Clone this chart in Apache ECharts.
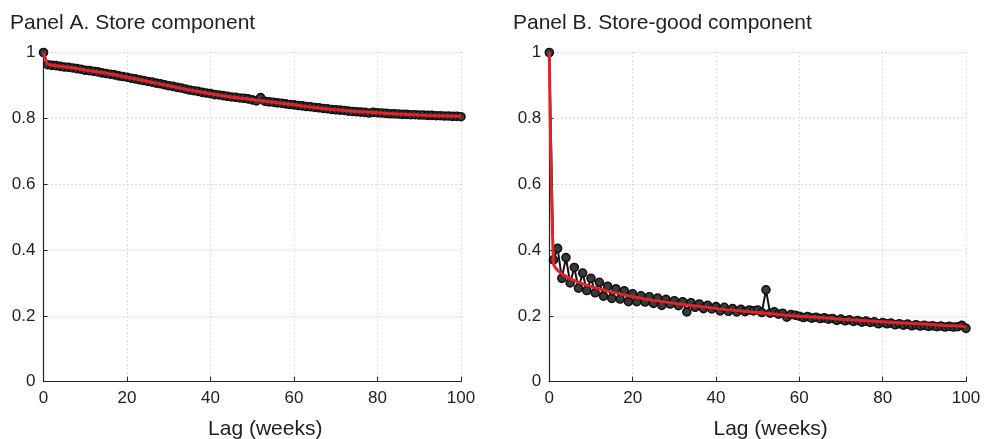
<!DOCTYPE html>
<html>
<head>
<meta charset="utf-8">
<script src="https://cdn.jsdelivr.net/npm/echarts@6/dist/echarts.min.js"></script>
<style>
html,body{margin:0;padding:0;background:#fff;}
#chart{width:985px;height:439px;}
</style>
</head>
<body>
<div id="chart"></div>
<script>
// Lags 0..100 (weeks)
const lags = Array.from({length: 101}, (_, i) => i);

// Panel A: Store component autocorrelation (dots)
const storeValues = [
  1.000, 0.963, 0.961, 0.960, 0.958, 0.956, 0.955, 0.953, 0.951, 0.949,
  0.946, 0.945, 0.943, 0.941, 0.938, 0.936, 0.934, 0.932, 0.929, 0.927,
  0.925, 0.922, 0.920, 0.917, 0.915, 0.912, 0.910, 0.907, 0.905, 0.902,
  0.899, 0.897, 0.894, 0.892, 0.889, 0.886, 0.884, 0.882, 0.879, 0.877,
  0.875, 0.872, 0.871, 0.869, 0.867, 0.865, 0.864, 0.862, 0.861, 0.859,
  0.856, 0.853, 0.863, 0.852, 0.850, 0.849, 0.847, 0.846, 0.844, 0.842,
  0.841, 0.839, 0.838, 0.836, 0.835, 0.833, 0.832, 0.830, 0.829, 0.827,
  0.826, 0.825, 0.824, 0.822, 0.821, 0.820, 0.819, 0.818, 0.816, 0.818,
  0.817, 0.816, 0.815, 0.814, 0.814, 0.813, 0.812, 0.812, 0.811, 0.811,
  0.810, 0.810, 0.809, 0.809, 0.808, 0.808, 0.807, 0.807, 0.806, 0.806,
  0.805
];

// Panel A: fitted curve (red), read at selected lags
const storeFitLags = [0, 1, 2, 5, 10, 15, 20, 25, 30, 35, 40, 45, 50, 55, 60, 65, 70, 75, 80, 85, 90, 95, 100];
const storeFitValues = [1.000, 0.965, 0.962, 0.957, 0.947, 0.937, 0.925, 0.912, 0.899, 0.886, 0.875, 0.865, 0.857, 0.849, 0.841, 0.833, 0.826, 0.821, 0.817, 0.813, 0.810, 0.808, 0.806];

// Panel B: Store-good component autocorrelation (dots)
const storeGoodValues = [
  1.000, 0.370, 0.405, 0.314, 0.377, 0.300, 0.347, 0.284, 0.330, 0.277,
  0.314, 0.270, 0.302, 0.260, 0.290, 0.253, 0.282, 0.251, 0.276, 0.243,
  0.267, 0.243, 0.261, 0.242, 0.258, 0.238, 0.254, 0.232, 0.250, 0.236,
  0.246, 0.231, 0.243, 0.212, 0.240, 0.226, 0.236, 0.222, 0.232, 0.221,
  0.228, 0.215, 0.226, 0.214, 0.222, 0.212, 0.220, 0.213, 0.218, 0.215,
  0.218, 0.210, 0.279, 0.208, 0.212, 0.205, 0.208, 0.196, 0.204, 0.202,
  0.199, 0.195, 0.198, 0.193, 0.196, 0.192, 0.194, 0.190, 0.192, 0.186,
  0.190, 0.185, 0.188, 0.183, 0.186, 0.181, 0.184, 0.180, 0.182, 0.176,
  0.180, 0.176, 0.178, 0.173, 0.176, 0.172, 0.175, 0.170, 0.173, 0.169,
  0.171, 0.168, 0.170, 0.167, 0.169, 0.166, 0.168, 0.166, 0.167, 0.171,
  0.162
];

// Panel B: fitted curve (red), read at selected lags
const storeGoodFitLags = [0, 1, 2, 3, 4, 5, 7, 10, 15, 20, 25, 30, 35, 40, 45, 50, 55, 60, 65, 70, 75, 80, 85, 90, 95, 100];
const storeGoodFitValues = [1.000, 0.360, 0.338, 0.328, 0.320, 0.313, 0.302, 0.289, 0.272, 0.258, 0.247, 0.238, 0.230, 0.222, 0.216, 0.210, 0.204, 0.199, 0.195, 0.190, 0.186, 0.182, 0.178, 0.175, 0.171, 0.168];

const xTicks = [0, 20, 40, 60, 80, 100];
const yTicks = [0, 0.2, 0.4, 0.6, 0.8, 1];
const panelTitles = ['Panel A. Store component', 'Panel B. Store-good component'];
const xAxisName = 'Lag (weeks)';

const FONT = 'Liberation Sans, Arial, Helvetica, sans-serif';
const chart = echarts.init(document.getElementById('chart'), null, {renderer: 'canvas'});

function xAxisCfg(gridIndex) {
  return {
    type: 'value', gridIndex, min: 0, max: 100, interval: 20,
    name: xAxisName, nameLocation: 'middle', nameGap: 37,
    nameTextStyle: {fontFamily: FONT, fontSize: 21, color: '#222', padding: [0, 0, 0, 26]},
    axisLine: {show: true, onZero: false, lineStyle: {color: '#222', width: 1.2}},
    axisTick: {show: true, inside: true, length: 5, lineStyle: {color: '#222'}},
    axisLabel: {fontFamily: FONT, fontSize: 17, color: '#222', margin: 8},
    splitLine: {show: true, lineStyle: {color: '#bbb', type: [1, 3], width: 1}}
  };
}
function yAxisCfg(gridIndex) {
  return {
    type: 'value', gridIndex, min: 0, max: 1, interval: 0.2,
    axisLine: {show: true, onZero: false, lineStyle: {color: '#222', width: 1.2}},
    axisTick: {show: true, inside: true, length: 4, lineStyle: {color: '#222'}},
    axisLabel: {fontFamily: FONT, fontSize: 17, color: '#222', margin: 8,
      formatter: v => String(+v.toFixed(1))},
    splitLine: {show: true, lineStyle: {color: '#bbb', type: [1, 3], width: 1}}
  };
}
function dotSeries(idx, values) {
  return {
    type: 'line', xAxisIndex: idx, yAxisIndex: idx,
    data: lags.map((l, i) => [l, values[i]]),
    symbol: 'circle', symbolSize: 8, showSymbol: true, clip: false,
    lineStyle: {color: '#111', width: 2},
    itemStyle: {color: '#3a3a3a', borderColor: '#111', borderWidth: 1.6},
    animation: false, z: 2
  };
}
function fitSeries(idx, xs, ys) {
  return {
    type: 'line', xAxisIndex: idx, yAxisIndex: idx,
    data: xs.map((x, i) => [x, ys[i]]),
    symbol: 'none', smooth: 0.3, clip: false,
    lineStyle: {color: '#e3232a', width: 3},
    animation: false, z: 3
  };
}

chart.setOption({
  backgroundColor: '#fff',
  animation: false,
  title: [
    {text: panelTitles[0], left: 5, top: 8, textStyle: {fontFamily: FONT, fontSize: 21, fontWeight: 'normal', color: '#222'}},
    {text: panelTitles[1], left: 508, top: 8, textStyle: {fontFamily: FONT, fontSize: 21, fontWeight: 'normal', color: '#222'}}
  ],
  grid: [
    {left: 43.5, right: 524, top: 52.5, bottom: 57.3, containLabel: false, outerBoundsMode: 'none'},
    {left: 549.3, right: 19, top: 52.5, bottom: 57.3, containLabel: false, outerBoundsMode: 'none'}
  ],
  xAxis: [xAxisCfg(0), xAxisCfg(1)],
  yAxis: [yAxisCfg(0), yAxisCfg(1)],
  series: [
    dotSeries(0, storeValues),
    fitSeries(0, storeFitLags, storeFitValues),
    dotSeries(1, storeGoodValues),
    fitSeries(1, storeGoodFitLags, storeGoodFitValues)
  ]
});
</script>
</body>
</html>
